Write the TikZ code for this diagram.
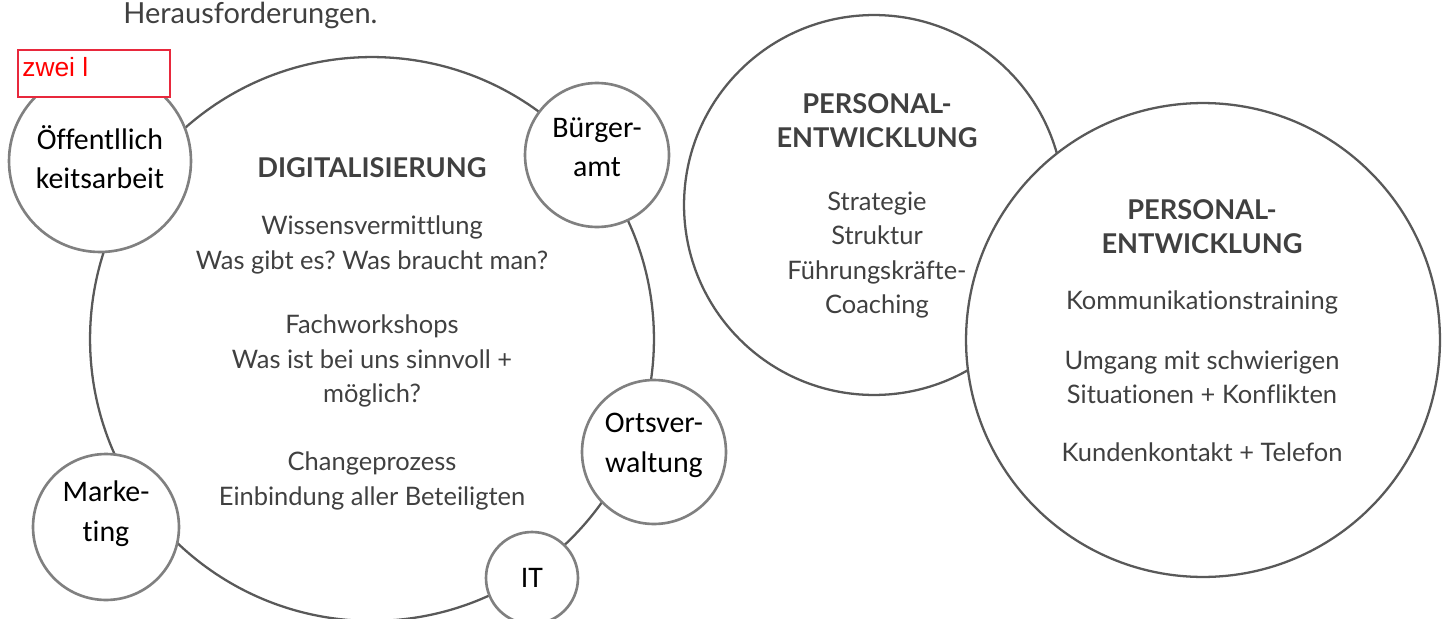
\documentclass[tikz,border=0pt]{standalone}
\usepackage{fontspec}
\setmainfont{Lato}[Ligatures=NoCommon]
\newfontfamily\calibri{Carlito}[Ligatures=NoCommon]
\newfontfamily\arial{Liberation Sans}
\usepackage{xcolor}
\usetikzlibrary{shapes,calc,positioning}
\frenchspacing

\definecolor{textgrau}{HTML}{404040}
\definecolor{liniengrau}{HTML}{595959}
\definecolor{kreisgrau}{HTML}{808080}
\definecolor{notizrot}{HTML}{E8283C}

\tikzset{
  gross/.style={circle,draw=liniengrau,line width=1.3pt,inner sep=0pt},
  klein/.style={circle,draw=kreisgrau,fill=white,line width=1.5pt,inner sep=0pt},
  kleintext/.style={align=center,inner sep=0pt,font=\calibri\fontsize{17}{22.5}\selectfont},
  titel/.style={text=textgrau,align=center,font=\bfseries\fontsize{15.5}{19.3}\selectfont},
  inhalt/.style={text=textgrau,align=center,font=\fontsize{14.5}{19.5}\selectfont},
}

\begin{document}
\begin{tikzpicture}[x=0.02cm,y=-0.02cm]
    \useasboundingbox (0,0) rectangle (1445,619);
    \node [inhalt,anchor=base west,inner sep=0pt,font=\fontsize{16.5}{20}\selectfont] (kopf) at (123,23) {Herausforderungen.};

    % Digitalisierung
    \node [gross,minimum size=11.28cm] (digi) at (372,339) {};
    \node [titel] (digititel) at (372,168) {DIGITALISIERUNG};
    \node [inhalt] (wissen) at (372,245) {Wissensvermittlung\\Was gibt es? Was braucht man?};
    \node [inhalt] (fach) at (372,361) {Fachworkshops\\Was ist bei uns sinnvoll +\\möglich?};
    \node [inhalt] (change) at (372,481) {Changeprozess\\Einbindung aller Beteiligten};

    \node [klein,minimum size=3.64cm,label={[kleintext,yshift=2.3pt]center:{Öffentllich\\keitsarbeit}}] (oeff) at (100,161) {};
    \node [klein,minimum size=2.88cm,label={[kleintext,yshift=4.3pt]center:{Bürger-\\amt}}] (buerger) at (597,155) {};
    \node [klein,minimum size=2.88cm,label={[kleintext,yshift=3.7pt]center:{Ortsver-\\waltung}}] (orts) at (654,452) {};
    \node [klein,minimum size=2.92cm,label={[kleintext,yshift=7.7pt]center:{Marke-\\ting}}] (marketing) at (106,527) {};
    \node [klein,minimum size=1.84cm,label={[kleintext]center:IT}] (it) at (532,578) {};

    \draw [notizrot,fill=white,line width=1.2pt] (18,50) rectangle (170,97);
    \node [anchor=north west,inner sep=0pt,text=red,font=\arial\fontsize{15}{17}\selectfont] (notiz) at (22,57) {zwei l};

    % Personalentwicklung
    \node [gross,minimum size=7.6cm] (pers) at (874,205) {};
    \node [gross,fill=white,minimum size=9.48cm] (persneu) at (1203,340) {};

    \node [titel] (perstitel) at (877,121) {PERSONAL-\\ENTWICKLUNG};
    \node [inhalt] (strategie) at (877,255) {Strategie\\Struktur\\Führungskräfte-\\Coaching};

    \node [titel] (persneutitel) at (1202,227) {PERSONAL-\\ENTWICKLUNG};
    \node [inhalt] (kommu) at (1202,302) {Kommunikationstraining};
    \node [inhalt] (umgang) at (1202,377) {Umgang mit schwierigen\\Situationen + Konflikten};
    \node [inhalt] (kunden) at (1202,452) {Kundenkontakt + Telefon};
\end{tikzpicture}
\end{document}
